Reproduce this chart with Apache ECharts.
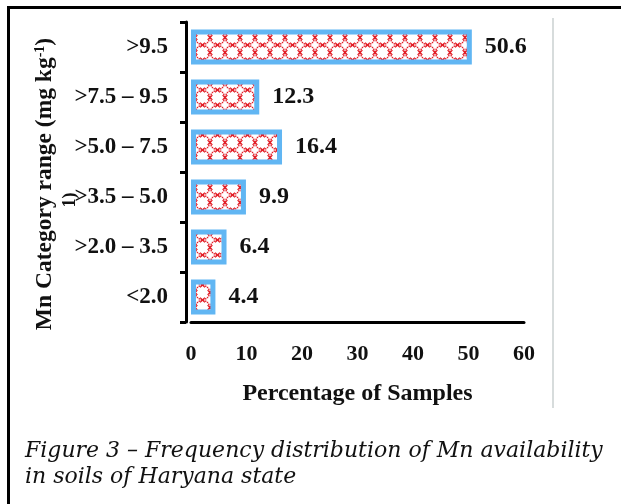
<!DOCTYPE html>
<html>
<head>
<meta charset="utf-8">
<script src="https://cdn.jsdelivr.net/npm/echarts@6/dist/echarts.min.js"></script>
<style>
  html, body { margin: 0; padding: 0; background: #fff; }
  #chart { width: 621px; height: 504px; }
</style>
</head>
<body>
<div id="chart"></div>
<script>
// Mn availability classes (bottom to top) and share of samples in each
const categories = ['<2.0', '>2.0 – 3.5', '>3.5 – 5.0', '>5.0 – 7.5', '>7.5 – 9.5', '>9.5'];
const percentages = [4.4, 6.4, 9.9, 16.4, 12.3, 50.6];
const xTicks = [0, 10, 20, 30, 40, 50, 60];

// Red dotted ring lattice used inside the bars: touching rings with
// small crosses at the points where neighbouring rings meet
function makeLattice() {
  const s = 15;
  const c = document.createElement('canvas');
  c.width = s; c.height = s;
  const g = c.getContext('2d');
  g.fillStyle = '#ffffff';
  g.fillRect(0, 0, s, s);
  g.strokeStyle = '#e21f28';
  g.fillStyle = '#e21f28';
  const r = s / 2 - 0.4;
  const n = 20;
  for (let i = 0; i < n; i++) {
    const a = (i / n) * Math.PI * 2 + Math.PI / 4;
    g.fillRect(s / 2 + r * Math.cos(a) - 0.7, s / 2 + r * Math.sin(a) - 0.7, 1.4, 1.4);
  }
  g.lineWidth = 1.3;
  const cross = (x, y) => {
    g.beginPath();
    g.moveTo(x - 2.4, y - 2.4); g.lineTo(x + 2.4, y + 2.4);
    g.moveTo(x + 2.4, y - 2.4); g.lineTo(x - 2.4, y + 2.4);
    g.stroke();
  };
  cross(s / 2, 0); cross(s / 2, s); cross(0, s / 2); cross(s, s / 2);
  return c;
}

const chart = echarts.init(document.getElementById('chart'), null, { renderer: 'canvas' });
const serif = '"Liberation Serif", "Times New Roman", serif';

chart.setOption({
  animation: false,
  backgroundColor: '#ffffff',
  grid: { left: 191, top: 22, width: 333, height: 300, containLabel: false },
  xAxis: {
    type: 'value',
    min: 0, max: 60, interval: 10,
    splitLine: { show: false },
    axisTick: { show: false },
    axisLine: { show: true, lineStyle: { color: '#000', width: 3 } },
    axisLabel: {
      margin: 21,
      color: '#111',
      fontFamily: serif, fontWeight: 'bold', fontSize: 22,
      formatter: v => xTicks.indexOf(v) >= 0 ? String(v) : ''
    },
    name: 'Percentage of Samples',
    nameLocation: 'middle',
    nameGap: 60,
    nameTextStyle: { color: '#111', fontFamily: serif, fontWeight: 'bold', fontSize: 24 }
  },
  yAxis: {
    type: 'category',
    data: categories,
    offset: 5,
    axisLine: { show: true, onZero: false, lineStyle: { color: '#000', width: 3 } },
    axisTick: { show: true, length: 6, lineStyle: { color: '#000', width: 3 } },
    axisLabel: {
      margin: 18,
      color: '#111',
      fontFamily: serif, fontWeight: 'bold', fontSize: 23
    }
  },
  series: [{
    type: 'bar',
    data: percentages,
    barWidth: 35,
    itemStyle: {
      color: { image: makeLattice(), repeat: 'repeat' },
      borderColor: '#61b6f3',
      borderWidth: 5
    },
    label: {
      show: true,
      position: 'right',
      distance: 13,
      color: '#111',
      fontFamily: serif, fontWeight: 'bold', fontSize: 24,
      formatter: p => p.value.toFixed(1)
    }
  }],
  graphic: [
    // page frame lines
    { type: 'line', shape: { x1: 8, y1: 7.5, x2: 621, y2: 7.5 }, style: { stroke: '#000', lineWidth: 3 } },
    { type: 'line', shape: { x1: 8.5, y1: 6, x2: 8.5, y2: 504 }, style: { stroke: '#000', lineWidth: 3 } },
    { type: 'line', shape: { x1: 553, y1: 18, x2: 553, y2: 408 }, style: { stroke: '#d7dcdc', lineWidth: 2 } },
    // vertical axis title
    {
      type: 'text', x: 45, y: 184, rotation: Math.PI / 2,
      style: {
        text: '{n|Mn Category range (mg kg}{s|-1}{n|)}',
        align: 'center', verticalAlign: 'middle',
        rich: {
          n: { fill: '#111', fontFamily: serif, fontWeight: 'bold', fontSize: 23.5 },
          s: { fill: '#111', fontFamily: serif, fontWeight: 'bold', fontSize: 14, verticalAlign: 'top', padding: [0, 0, 10, 0] }
        }
      }
    },
    // wrapped remainder of the axis title
    {
      type: 'text', x: 70, y: 200, rotation: Math.PI / 2,
      style: { text: '1)', fill: '#111', font: 'bold 18px ' + serif, align: 'center', verticalAlign: 'middle' }
    },
    // figure caption
    {
      type: 'text', left: 25, top: 438,
      style: {
        text: 'Figure 3 – Frequency distribution of Mn availability\nin soils of Haryana state',
        fill: '#111', font: 'italic 22px "DejaVu Serif", serif', lineHeight: 26
      }
    }
  ]
});
</script>
</body>
</html>
